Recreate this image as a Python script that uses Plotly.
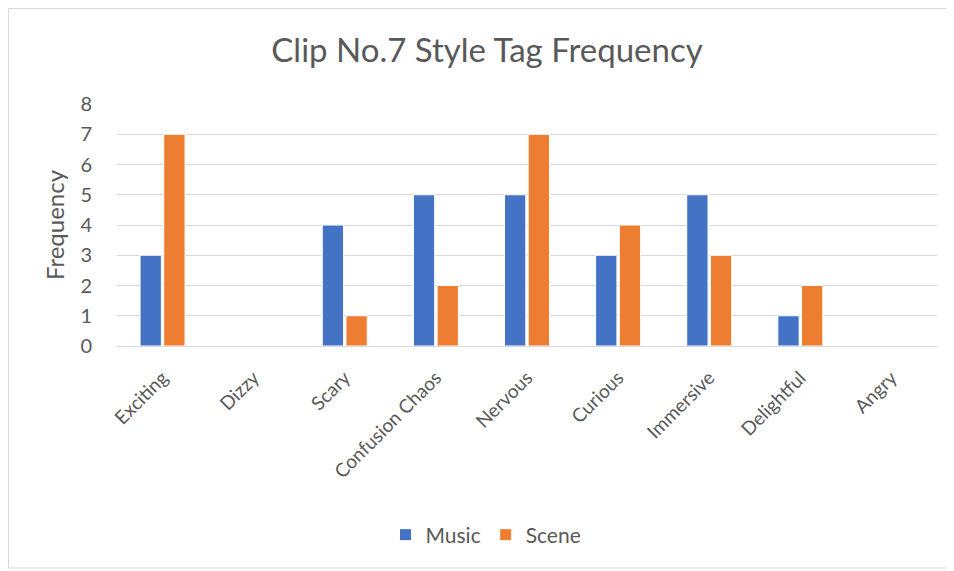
import plotly.graph_objects as go

categories = ["Exciting", "Dizzy", "Scary", "Confusion Chaos", "Nervous",
              "Curious", "Immersive", "Delightful", "Angry"]
music = [3, 0, 4, 5, 5, 3, 5, 1, 0]
scene = [7, 0, 1, 2, 7, 4, 3, 2, 0]
y_ticks = [0, 1, 2, 3, 4, 5, 6, 7, 8]

FONT = "Lato, Open Sans, sans-serif"
GREY = "#595959"

fig = go.Figure()
fig.add_trace(go.Bar(x=categories, y=music, name="Music",
                     marker=dict(color="#4472C4", line=dict(color="white", width=1))))
fig.add_trace(go.Bar(x=categories, y=scene, name="Scene",
                     marker=dict(color="#ED7D31", line=dict(color="white", width=1))))

# page has 8px body margin; figure coordinates = page - 8
W, H = 946, 563
L, T = 109, 96
R = W - 929
B = H - 338
pw, ph = W - L - R, H - T - B

fig.update_layout(
    width=W, height=H,
    margin=dict(l=L, r=R, t=T, b=B),
    paper_bgcolor="white", plot_bgcolor="white",
    barmode="group", bargap=0.48, bargroupgap=0.1,
    font=dict(family=FONT, color=GREY, size=18),
    title=dict(text="Clip No.7 Style Tag Frequency", x=(487 - 8) / W, xanchor="center",
               y=1 - 42 / H, yanchor="middle",
               font=dict(family=FONT, size=33, color=GREY)),
    showlegend=True,
    legend=dict(orientation="h", x=(486 - 8 - L) / pw, xanchor="center",
                y=(T + ph - (535 - 8)) / ph, yanchor="middle",
                font=dict(size=21, color=GREY), traceorder="normal",
                itemwidth=30, tracegroupgap=0),
    xaxis=dict(tickangle=-45, showgrid=False, showline=False, ticks="",
               ticklabelstandoff=16,
               tickfont=dict(size=19, color=GREY)),
    yaxis=dict(range=[0, 8], tickvals=y_ticks, showgrid=True, gridcolor="#D9D9D9",
               gridwidth=1, zeroline=True, zerolinecolor="#D9D9D9", zerolinewidth=1,
               ticks="outside", ticklen=20, tickcolor="rgba(0,0,0,0)",
               tickfont=dict(size=20, color=GREY),
               title=dict(text="Frequency", font=dict(size=24, color=GREY), standoff=8)),
)

fig.add_shape(type="rect", xref="paper", yref="paper",
              x0=(0.5 - L) / pw, x1=(W + 5 - L) / pw,
              y0=(T + ph - (H - 3)) / ph, y1=(T + ph - 0.5) / ph,
              line=dict(color="#D9D9D9", width=1), fillcolor="rgba(0,0,0,0)", layer="below")

fig.write_html("out.html")
